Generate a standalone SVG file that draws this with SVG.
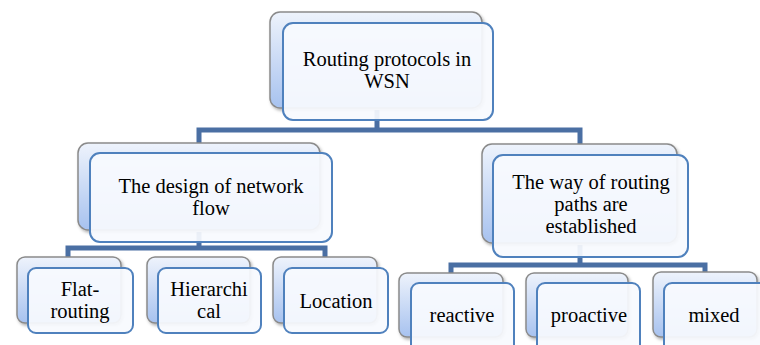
<svg xmlns="http://www.w3.org/2000/svg" width="760" height="345" viewBox="0 0 760 345">
<defs>
<linearGradient id="bg" x1="0" y1="0" x2="0" y2="1">
<stop offset="0" stop-color="#eef3fc"/>
<stop offset="1" stop-color="#a7c2ef"/>
</linearGradient>
<filter id="sh" x="-10%" y="-10%" width="130%" height="130%">
<feDropShadow dx="1.5" dy="2" stdDeviation="1.5" flood-color="#000" flood-opacity="0.3"/>
</filter>
</defs>
<style>
.back{fill:url(#bg);stroke:#8a8a8a;stroke-width:1.5;filter:url(#sh)}
.front{fill:#f8fafe;fill-opacity:0.93;stroke:#4f81bd;stroke-width:2}
.conn{fill:none;stroke:#4a6fa3;stroke-width:5;stroke-linejoin:miter}
.t{font-family:'Liberation Serif','Times New Roman',Times,serif;font-size:20.5px;fill:#000;text-anchor:middle}
</style>
<rect width="760" height="345" fill="#fff"/>
<g id="connectors">
<path class="conn" d="M377 110 V130"/>
<path class="conn" d="M199 144 V130 H580 V145"/>
<path class="conn" d="M199 232 V248"/>
<path class="conn" d="M68 258 V248 H325 V258"/>
<path class="conn" d="M580 245 V265"/>
<path class="conn" d="M451 274 V265 H705 V274"/>
</g>
<g id="root">
<rect class="back" x="270" y="12" width="212" height="96" rx="10"/>
<rect class="front" x="283" y="23" width="210" height="97" rx="10"/>
<text class="t" x="387" y="66">Routing protocols in</text>
<text class="t" x="387" y="88">WSN</text>
</g>
<g id="design">
<rect class="back" x="78" y="143" width="242" height="87" rx="10"/>
<rect class="front" x="90" y="153" width="242" height="89" rx="10"/>
<text class="t" x="211" y="193">The design of network</text>
<text class="t" x="211" y="215">flow</text>
</g>
<g id="way">
<rect class="back" x="482" y="144" width="195" height="99" rx="10"/>
<rect class="front" x="493" y="155" width="195" height="102" rx="10"/>
<text class="t" x="591" y="189">The way of routing</text>
<text class="t" x="591" y="211">paths are</text>
<text class="t" x="591" y="233">established</text>
</g>
<g id="flat">
<rect class="back" x="17" y="257" width="104" height="66" rx="8"/>
<rect class="front" x="28" y="268" width="105" height="65" rx="8"/>
<text class="t" x="80" y="296">Flat-</text>
<text class="t" x="80" y="318">routing</text>
</g>
<g id="hier">
<rect class="back" x="147" y="257" width="103" height="66" rx="8"/>
<rect class="front" x="158" y="268" width="103" height="65" rx="8"/>
<text class="t" x="209" y="296">Hierarchi</text>
<text class="t" x="209" y="318">cal</text>
</g>
<g id="loc">
<rect class="back" x="273" y="257" width="104" height="66" rx="8"/>
<rect class="front" x="284" y="268" width="104" height="65" rx="8"/>
<text class="t" x="336" y="308">Location</text>
</g>
<g id="reactive">
<rect class="back" x="399" y="273" width="104" height="64" rx="8"/>
<rect class="front" x="411" y="283" width="103" height="70" rx="8"/>
<text class="t" x="462" y="322">reactive</text>
</g>
<g id="proactive">
<rect class="back" x="526" y="273" width="102" height="64" rx="8"/>
<rect class="front" x="537" y="283" width="103" height="70" rx="8"/>
<text class="t" x="589" y="322">proactive</text>
</g>
<g id="mixed">
<rect class="back" x="653" y="272" width="104" height="65" rx="8"/>
<rect class="front" x="664" y="283" width="104" height="70" rx="8"/>
<text class="t" x="714" y="322">mixed</text>
</g>
</svg>
